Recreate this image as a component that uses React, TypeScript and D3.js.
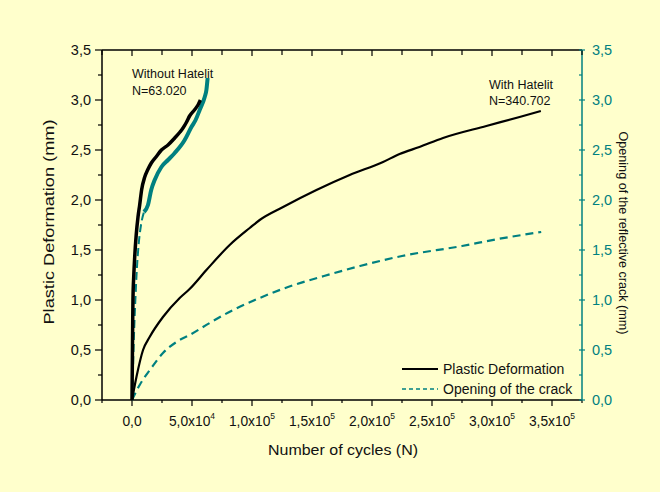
import * as d3 from 'd3';

// Number of cycles vs deformation / crack opening (mm)
const withDeformation: [number, number][] = [
  [0, 0], [3700, 0.23], [9200, 0.5], [14700, 0.63], [25800, 0.83], [39750, 1.02],
  [48000, 1.11], [62000, 1.3], [81400, 1.55], [98100, 1.72], [106400, 1.8],
  [125900, 1.93], [153700, 2.1], [181400, 2.25], [209200, 2.38], [223000, 2.46],
  [239500, 2.53], [259200, 2.62], [295300, 2.74], [323000, 2.83], [340700, 2.89],
];

const withCrack: [number, number][] = [
  [0, 0], [6400, 0.15], [16100, 0.32], [25800, 0.47], [37000, 0.58], [48000, 0.65],
  [64700, 0.77], [84200, 0.9], [106400, 1.02], [130000, 1.13], [160000, 1.24],
  [190000, 1.34], [225000, 1.44], [275000, 1.54], [305000, 1.61], [341000, 1.68],
];

const withoutDeformation: [number, number][] = [
  [0, 0], [300, 0.4], [600, 0.8], [800, 1.0], [1500, 1.25], [2250, 1.43], [3500, 1.65],
  [5000, 1.83], [6400, 1.95], [8000, 2.1], [10600, 2.23], [13000, 2.3], [16100, 2.37],
  [20000, 2.43], [24500, 2.5], [30000, 2.55], [35600, 2.62], [40000, 2.68],
  [42500, 2.72], [45500, 2.78], [48000, 2.84], [52000, 2.9], [55000, 2.95], [57000, 3.0],
];

const withoutCrack: [number, number][] = [
  [0, 0], [800, 0.3], [1800, 0.7], [2800, 1.0], [4000, 1.3], [5500, 1.55], [7500, 1.75],
  [10000, 1.88], [13300, 1.95], [16000, 2.1], [18900, 2.2], [24500, 2.33], [30000, 2.4],
  [35600, 2.47], [43900, 2.6], [49500, 2.73], [53000, 2.8], [56400, 2.9], [60600, 3.03],
  [62000, 3.1], [63020, 3.22],
];

const xTicks = [0, 50000, 100000, 150000, 200000, 250000, 300000, 350000];
const xTickMantissa = ['0,0', '5,0', '1,0', '1,5', '2,0', '2,5', '3,0', '3,5'];
const xTickExponent = ['', '4', '5', '5', '5', '5', '5', '5'];
const yTicks = [0, 0.5, 1, 1.5, 2, 2.5, 3, 3.5];
const yTickLabels = ['0,0', '0,5', '1,0', '1,5', '2,0', '2,5', '3,0', '3,5'];

const BG = '#FFFFCC';
const TEAL = '#008080';
const FONT = '"Liberation Sans", Arial, sans-serif';

export default function App() {
  const x = d3.scaleLinear().domain([-25000, 375000]).range([102, 582]);
  const y = d3.scaleLinear().domain([0, 3.5]).range([400, 50]);
  const [x0, x1] = x.range();
  const [y0, y1] = y.range();

  const line = d3.line<[number, number]>()
    .x(d => x(d[0]))
    .y(d => y(d[1]))
    .curve(d3.curveMonotoneX);

  const xMinor = d3.range(-25000, 375001, 25000);
  const yMinor = d3.range(0, 3.51, 0.25);
  const noisy = withoutCrack.filter(d => d[0] >= 10000);

  return (
    <svg width={660} height={492} style={{ position: 'absolute', left: 0, top: 0 }} fontFamily={FONT}>
      <rect width={660} height={492} fill={BG} />

      {/* frame */}
      <line x1={x0} x2={x1} y1={y0} y2={y0} stroke="black" strokeWidth={1.5} />
      <line x1={x0} x2={x1} y1={y1} y2={y1} stroke="black" strokeWidth={1.5} />
      <line x1={x0} x2={x0} y1={y0} y2={y1} stroke="black" strokeWidth={1.5} />
      <line x1={x1} x2={x1} y1={y0} y2={y1} stroke={TEAL} strokeWidth={1.5} />

      {/* x ticks */}
      {xMinor.map((v, i) => {
        const major = xTicks.includes(v);
        return (
          <g key={'xt' + i}>
            <line x1={x(v)} x2={x(v)} y1={y0} y2={y0 + (major ? 6 : 3)} stroke="black" strokeWidth={1.2} />
            <line x1={x(v)} x2={x(v)} y1={y1} y2={y1 + (major ? 6 : 5)} stroke="black" strokeWidth={1.2} />
          </g>
        );
      })}
      {xTicks.map((v, i) => (
        <text key={'xl' + i} x={x(v)} y={426} textAnchor="middle" fontSize={13.8} fill="#111">
          <tspan>{xTickMantissa[i]}{xTickExponent[i] ? 'x10' : ''}</tspan>
          {xTickExponent[i] && <tspan dy={-7} fontSize={8.5}>{xTickExponent[i]}</tspan>}
        </text>
      ))}

      {/* y ticks */}
      {yMinor.map((v, i) => {
        const major = Math.abs(v * 2 - Math.round(v * 2)) < 1e-6;
        return (
          <g key={'yt' + i}>
            <line x1={x0 - (major ? 7 : 4)} x2={x0} y1={y(v)} y2={y(v)} stroke="black" strokeWidth={1.2} />
            <line x1={x1 - 3} x2={x1 + (major ? 3 : 0)} y1={y(v)} y2={y(v)} stroke={TEAL} strokeWidth={1.2} />
          </g>
        );
      })}
      {yTicks.map((v, i) => (
        <g key={'yl' + i}>
          <text x={91} y={y(v)} dy="0.35em" textAnchor="end" fontSize={14.5} fill="#111">{yTickLabels[i]}</text>
          <text x={592} y={y(v)} dy="0.35em" textAnchor="start" fontSize={14.5} fill={TEAL}>{yTickLabels[i]}</text>
        </g>
      ))}

      {/* axis titles */}
      <text x={343} y={455} textAnchor="middle" fontSize={15.5} textLength={150} lengthAdjust="spacingAndGlyphs" fill="#111">Number of cycles (N)</text>
      <text transform="translate(54,222) rotate(-90)" textAnchor="middle" fontSize={15} textLength={205} lengthAdjust="spacingAndGlyphs" fill="#111">Plastic Deformation (mm)</text>
      <text transform="translate(619,233) rotate(90)" textAnchor="middle" fontSize={12.6} fill="#111">Opening of the reflective crack (mm)</text>

      {/* curves */}
      <path d={line(withCrack) || ''} fill="none" stroke={TEAL} strokeWidth={2.2} strokeDasharray="8,5" />
      <path d={line(withDeformation) || ''} fill="none" stroke="black" strokeWidth={2.2} />
      <path d={line(withoutCrack) || ''} fill="none" stroke={TEAL} strokeWidth={2} strokeDasharray="8,4" />
      <path d={line(noisy) || ''} fill="none" stroke={TEAL} strokeWidth={4} />
      <path d={line(withoutDeformation) || ''} fill="none" stroke="black" strokeWidth={3.5} />

      {/* annotations */}
      <text x={132} y={78} fontSize={12.5} fill="#111">Without Hatelit</text>
      <text x={132} y={95} fontSize={12.5} fill="#111">N=63.020</text>
      <text x={489} y={89} fontSize={12.5} fill="#111">With Hatelit</text>
      <text x={489} y={105} fontSize={12.5} fill="#111">N=340.702</text>

      {/* legend */}
      <line x1={402} x2={438} y1={369} y2={369} stroke="black" strokeWidth={2} />
      <text x={443} y={374} fontSize={14} fill="#111">Plastic Deformation</text>
      <line x1={402} x2={438} y1={389} y2={389} stroke={TEAL} strokeWidth={1.5} strokeDasharray="4,3" />
      <text x={443} y={394} fontSize={14} fill="#111">Opening of the crack</text>
    </svg>
  );
}
